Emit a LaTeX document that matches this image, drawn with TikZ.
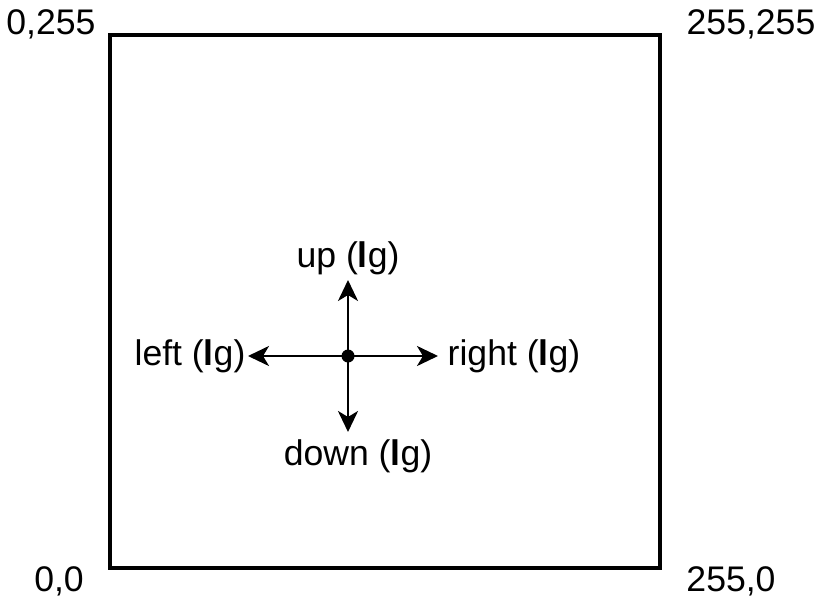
\documentclass[tikz,border=0pt]{standalone}
\usepackage{fontspec}
\setmainfont{Liberation Sans}
\usetikzlibrary{arrows.meta}

\begin{document}
\begin{tikzpicture}[x=0.5pt, y=0.5pt,
    every node/.style={font=\fontsize{17.8}{21}\selectfont, inner sep=0pt},
    dir/.style={line width=1.3pt, -{Stealth[length=10.5pt, width=10pt, inset=3pt]}}]
  \useasboundingbox (0,0) rectangle (819,596);

  % Square
  \draw[line width=2pt] (110,28) rectangle (660,561);

  % Corner labels
  \node (tl) at (51,572) {0,255};
  \node (tr) at (751,572) {255,255};
  \node (bl) at (59,15) {0,0};
  \node (br) at (731,15) {255,0};

  % Centre point
  \node[circle, fill, minimum size=6.5pt] (c) at (348,240) {};

  % Arrow tips
  \coordinate (pu) at (348,316);
  \coordinate (pd) at (348,164);
  \coordinate (pl) at (248,240);
  \coordinate (pr) at (438,240);

  % Direction arrows
  \draw[dir] (c.center) -- (pu);
  \draw[dir] (c.center) -- (pd);
  \draw[dir] (c.center) -- (pl);
  \draw[dir] (c.center) -- (pr);

  % Direction labels
  \node (up) at (348,338) {up ({\bfseries l}g)};
  \node (down) at (358,140) {down ({\bfseries l}g)};
  \node (left) at (190,240) {left ({\bfseries l}g)};
  \node (right) at (514,240) {right ({\bfseries l}g)};
\end{tikzpicture}
\end{document}
